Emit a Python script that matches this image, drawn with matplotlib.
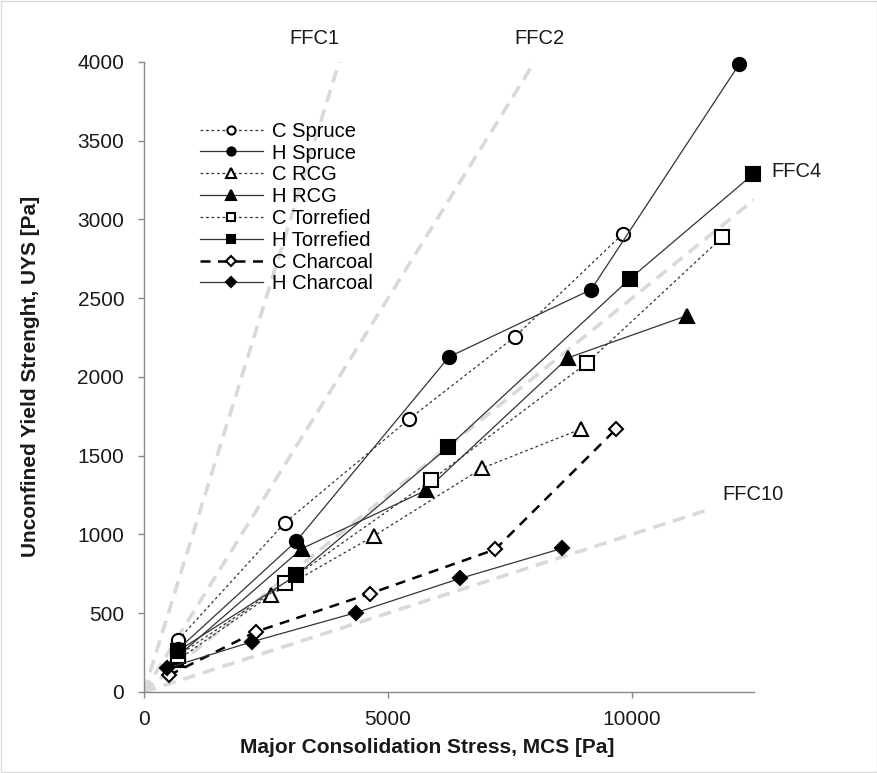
import matplotlib
matplotlib.use("Agg")
import matplotlib.pyplot as plt
from matplotlib.patches import Rectangle

plt.rcParams['font.family'] = ['Liberation Sans', 'DejaVu Sans']

# Data (MCS [Pa], UYS [Pa])
c_spruce_x = [700, 2890, 5430, 7600, 9816]
c_spruce_y = [330, 1075, 1732, 2255, 2910]
h_spruce_x = [700, 3115, 6250, 9160, 12193]
h_spruce_y = [270, 955, 2127, 2554, 3985]
c_rcg_x = [680, 2610, 4713, 6926, 8955]
c_rcg_y = [200, 618, 990, 1420, 1669]
h_rcg_x = [650, 3238, 5779, 8689, 11127]
h_rcg_y = [215, 910, 1280, 2121, 2389]
c_torr_x = [700, 2890, 5881, 9078, 11844]
c_torr_y = [230, 688, 1344, 2089, 2885]
h_torr_x = [700, 3115, 6230, 9959, 12480]
h_torr_y = [260, 739, 1554, 2624, 3287]
c_char_x = [510, 2295, 4631, 7193, 9672]
c_char_y = [105, 382, 624, 904, 1669]
h_char_x = [470, 2213, 4344, 6475, 8566]
h_char_y = [150, 318, 503, 720, 911]

ffc_values = [1, 2, 4, 10]
ffc_xmax = [4000, 8000, 12500, 11500]
ffc_labels = ['FFC1', 'FFC2', 'FFC4', 'FFC10']

fig = plt.figure(figsize=(8.78, 7.73), dpi=100)
ax = fig.add_axes([0.164, 0.105, 0.695, 0.815])

txt_col = '#1a1a1a'

# FFC lines
for f, xm in zip(ffc_values, ffc_xmax):
    ax.plot([0, xm], [0, xm / f], color='#d9d9d9', lw=2.6, ls=(0, (3.5, 2.2)),
            zorder=1, solid_capstyle='butt', dash_capstyle='butt')

ax.text(3500, 4150, ffc_labels[0], fontsize=14.5, color=txt_col, ha='center', va='center', clip_on=False)
ax.text(8100, 4150, ffc_labels[1], fontsize=14.5, color=txt_col, ha='center', va='center', clip_on=False)
ax.text(12850, 3305, ffc_labels[2], fontsize=14.5, color=txt_col, ha='left', va='center', clip_on=False)
ax.text(11850, 1250, ffc_labels[3], fontsize=14.5, color=txt_col, ha='left', va='center', clip_on=False)

dot = (0, (2.2, 2.2))
lc = '#333333'
mew = 1.5
series = [
    (c_spruce_x, c_spruce_y, 'C Spruce', 'o', 'white', dot, 0.9, 9.5),
    (h_spruce_x, h_spruce_y, 'H Spruce', 'o', 'black', '-', 0.9, 9.5),
    (c_rcg_x, c_rcg_y, 'C RCG', '^', 'white', dot, 0.9, 10.5),
    (h_rcg_x, h_rcg_y, 'H RCG', '^', 'black', '-', 0.9, 10.5),
    (c_torr_x, c_torr_y, 'C Torrefied', 's', 'white', dot, 0.9, 9.5),
    (h_torr_x, h_torr_y, 'H Torrefied', 's', 'black', '-', 0.9, 9.5),
    (c_char_x, c_char_y, 'C Charcoal', 'D', 'white', (0, (4, 3)), 1.8, 7.5),
    (h_char_x, h_char_y, 'H Charcoal', 'D', 'black', '-', 0.9, 7.5),
]
for x, y, lab, m, fc, ls, lw, msz in series:
    ax.plot(x, y, ls=ls, lw=lw, color=lc if lw < 1.5 else 'black', marker=m,
            markersize=msz, markerfacecolor=fc, markeredgecolor='black',
            markeredgewidth=mew, label=lab, zorder=3, clip_on=False)

ax.set_xlim(0, 12500)
ax.set_ylim(0, 4000)
ax.set_xticks([0, 5000, 10000])
ax.set_yticks(range(0, 4001, 500))
for s in ['top', 'right']:
    ax.spines[s].set_visible(False)
for s in ['left', 'bottom']:
    ax.spines[s].set_color('#888888')
    ax.spines[s].set_linewidth(1.0)
ax.tick_params(axis='both', colors='#888888', labelcolor=txt_col, labelsize=15,
               direction='out', length=4.3, width=1)
ax.tick_params(axis='y', pad=10)
ax.tick_params(axis='x', pad=9)

ax.set_xlabel('Major Consolidation Stress, MCS [Pa]', fontsize=15, fontweight='bold',
              color=txt_col)
ax.set_ylabel('Unconfined Yield Strenght, UYS [Pa]', fontsize=15, fontweight='bold',
              color=txt_col)
ax.xaxis.set_label_coords(0.464, -0.073)
ax.yaxis.set_label_coords(-0.17, 0.5)

leg = ax.legend(loc='upper left', bbox_to_anchor=(0.092, 0.905), frameon=False,
                fontsize=14.5, handlelength=3.1, labelspacing=0.14, markerscale=0.62,
                handletextpad=0.45, borderaxespad=0, borderpad=0)

fig.patches.append(Rectangle((0.001, 0.001), 0.998, 0.998, transform=fig.transFigure,
                             fill=False, edgecolor='#d9d9d9', lw=1))

fig.savefig('out.png', dpi=100)
